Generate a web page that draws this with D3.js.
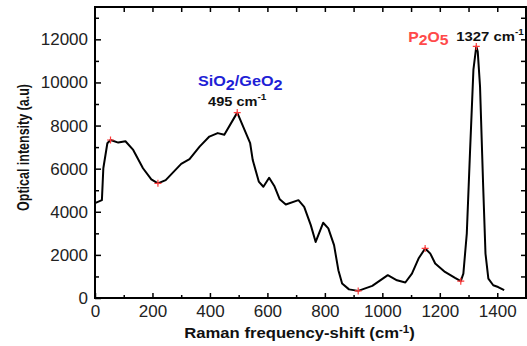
<!DOCTYPE html>
<html>
<head>
<meta charset="utf-8">
<script src="https://cdn.jsdelivr.net/npm/d3@7"></script>
<style>
    body { margin: 0; background: #fff; }
    svg { display: block; font-family: "Liberation Sans", Arial, sans-serif; }
</style>
</head>
<body>
<svg id="chart" width="527" height="346"></svg>
<script>
// Raman spectrum
const ramanShift = [0, 24, 29, 43, 54, 81, 106, 133, 167, 196, 219, 246, 300, 329, 364, 398, 427, 450, 495,
    540, 549, 570, 586, 606, 624, 643, 664, 708, 728, 751, 768, 794, 812, 832, 847, 860, 884, 916, 965,
    1019, 1051, 1080, 1103, 1126, 1149, 1167, 1184, 1218, 1253, 1273, 1282, 1294, 1305, 1317, 1327,
    1332, 1340, 1351, 1359, 1369, 1386, 1403, 1424];
const intensity = [4400, 4540, 6020, 7180, 7330, 7210, 7270, 6870, 6020, 5500, 5320, 5470, 6220, 6440, 7020, 7490, 7650, 7570, 8600,
    7180, 6400, 5400, 5160, 5580, 5200, 4580, 4340, 4540, 4230, 3380, 2600, 3490, 3230, 2450, 1290, 670, 400, 330, 560,
    1060, 820, 720, 1130, 1830, 2300, 2060, 1600, 1210, 930, 780, 1130, 3000, 6720, 10590, 11670,
    11440, 9810, 5160, 2060, 900, 590, 510, 360];

// red "+" markers on the picked peaks / minima
const markerShift = [54, 219, 495, 916, 1149, 1273, 1327];
const markerIntensity = [7330, 5320, 8600, 330, 2300, 780, 11670];

const xTicks = [0, 200, 400, 600, 800, 1000, 1200, 1400];
const yTicks = [0, 2000, 4000, 6000, 8000, 10000, 12000];

const margin = {top: 7, right: 1, bottom: 48, left: 95};
const svg = d3.select("#chart");
const width = +svg.attr("width") - margin.left - margin.right;
const height = +svg.attr("height") - margin.top - margin.bottom;

const x = d3.scaleLinear().domain([0, 1500]).range([0, width]);
const y = d3.scaleLinear().domain([0, 13500]).range([height, 0]);

const g = svg.append("g").attr("transform", `translate(${margin.left},${margin.top})`);

// axes: ticks point inward on all four sides
function styleAxis(sel) {
    sel.select(".domain").remove();
    sel.selectAll(".tick line").attr("stroke", "#000").attr("stroke-width", 1.5);
    sel.selectAll(".tick text").attr("fill", "#222").style("font-size", "17px");
}

g.append("g").attr("transform", `translate(0,${height})`)
    .call(d3.axisBottom(x).tickValues(xTicks).tickSize(-5).tickPadding(7).tickFormat(d3.format("d")))
    .call(styleAxis);
g.append("g").attr("transform", `translate(0,${height})`)
    .call(d3.axisBottom(x).tickValues(d3.range(100, 1500, 200)).tickSize(-3).tickFormat(""))
    .call(styleAxis);
g.append("g")
    .call(d3.axisTop(x).tickValues(d3.range(100, 1500, 100)).tickSize(-5).tickFormat(""))
    .call(styleAxis);

g.append("g")
    .call(d3.axisLeft(y).tickValues(yTicks).tickSize(-6).tickPadding(7).tickFormat(d3.format("d")))
    .call(styleAxis);
g.append("g")
    .call(d3.axisLeft(y).tickValues(d3.range(1000, 13500, 2000)).tickSize(-4).tickFormat(""))
    .call(styleAxis);
g.append("g").attr("transform", `translate(${width},0)`)
    .call(d3.axisRight(y).tickValues(d3.range(1000, 13500, 1000)).tickSize(-5).tickFormat(""))
    .call(styleAxis);

g.append("rect")
    .attr("width", width).attr("height", height)
    .attr("fill", "none").attr("stroke", "#000").attr("stroke-width", 2);

// spectrum
const points = ramanShift.map((d, i) => [d, intensity[i]]);
g.append("path")
    .datum(points)
    .attr("fill", "none")
    .attr("stroke", "#000")
    .attr("stroke-width", 2)
    .attr("stroke-linejoin", "round")
    .attr("d", d3.line().x(d => x(d[0])).y(d => y(d[1])));

const markers = markerShift.map((d, i) => [d, markerIntensity[i]]);
g.selectAll(".marker")
    .data(markers)
    .enter().append("path")
    .attr("class", "marker")
    .attr("transform", d => `translate(${x(d[0])},${y(d[1])})`)
    .attr("d", "M-3.5,0H3.5M0,-3.5V3.5")
    .attr("stroke", "#ff3b3b")
    .attr("stroke-width", 1.2);

// text in the source figure is a little wider than it is tall
function label(px, py, opts) {
    return g.append("g")
        .attr("transform", `translate(${px},${py}) scale(${opts.sx || 1.12},1)` + (opts.rotate ? " rotate(-90)" : ""))
        .append("text")
        .attr("text-anchor", opts.anchor || "start")
        .attr("fill", opts.fill || "#111")
        .style("font-size", opts.size + "px")
        .style("font-weight", "bold");
}

function parts(sel, list) {
    list.forEach(p => {
        const t = sel.append("tspan").attr("dy", p.dy || 0).text(p.t);
        if (p.size) t.style("font-size", p.size + "px");
    });
    return sel;
}

parts(label(x(495) + 3, y(8600) - 27, {anchor: "middle", fill: "#1f1fd6", size: 15, sx: 1.08}),
    [{t: "SiO"}, {t: "2", dy: 4}, {t: "/GeO", dy: -4}, {t: "2", dy: 4}]);

parts(label(x(495), y(8600) - 7, {anchor: "middle", size: 13}),
    [{t: "495 cm"}, {t: "-1", dy: -6, size: 9}]);

parts(label(x(1327) - 68, y(11670) - 4, {fill: "#ff4a4a", size: 15, sx: 1.05}),
    [{t: "P"}, {t: "2", dy: 3}, {t: "O", dy: -3}, {t: "5", dy: 3}]);

parts(label(x(1327) - 20, y(11670) - 5, {size: 13.5, sx: 1.1}),
    [{t: "1327 cm"}, {t: "-1", dy: -6, size: 9}]);

// axis titles
parts(label(width / 2 - 11, height + 40, {anchor: "middle", size: 14.5, sx: 1.15}),
    [{t: "Raman frequency-shift (cm"}, {t: "-1", dy: -5, size: 10}, {t: ")", dy: 5}]);

label(-66, height / 2 - 5, {anchor: "middle", size: 12.5, sx: 1.25, rotate: true})
    .text("Optical intensity (a.u)");
</script>
</body>
</html>
